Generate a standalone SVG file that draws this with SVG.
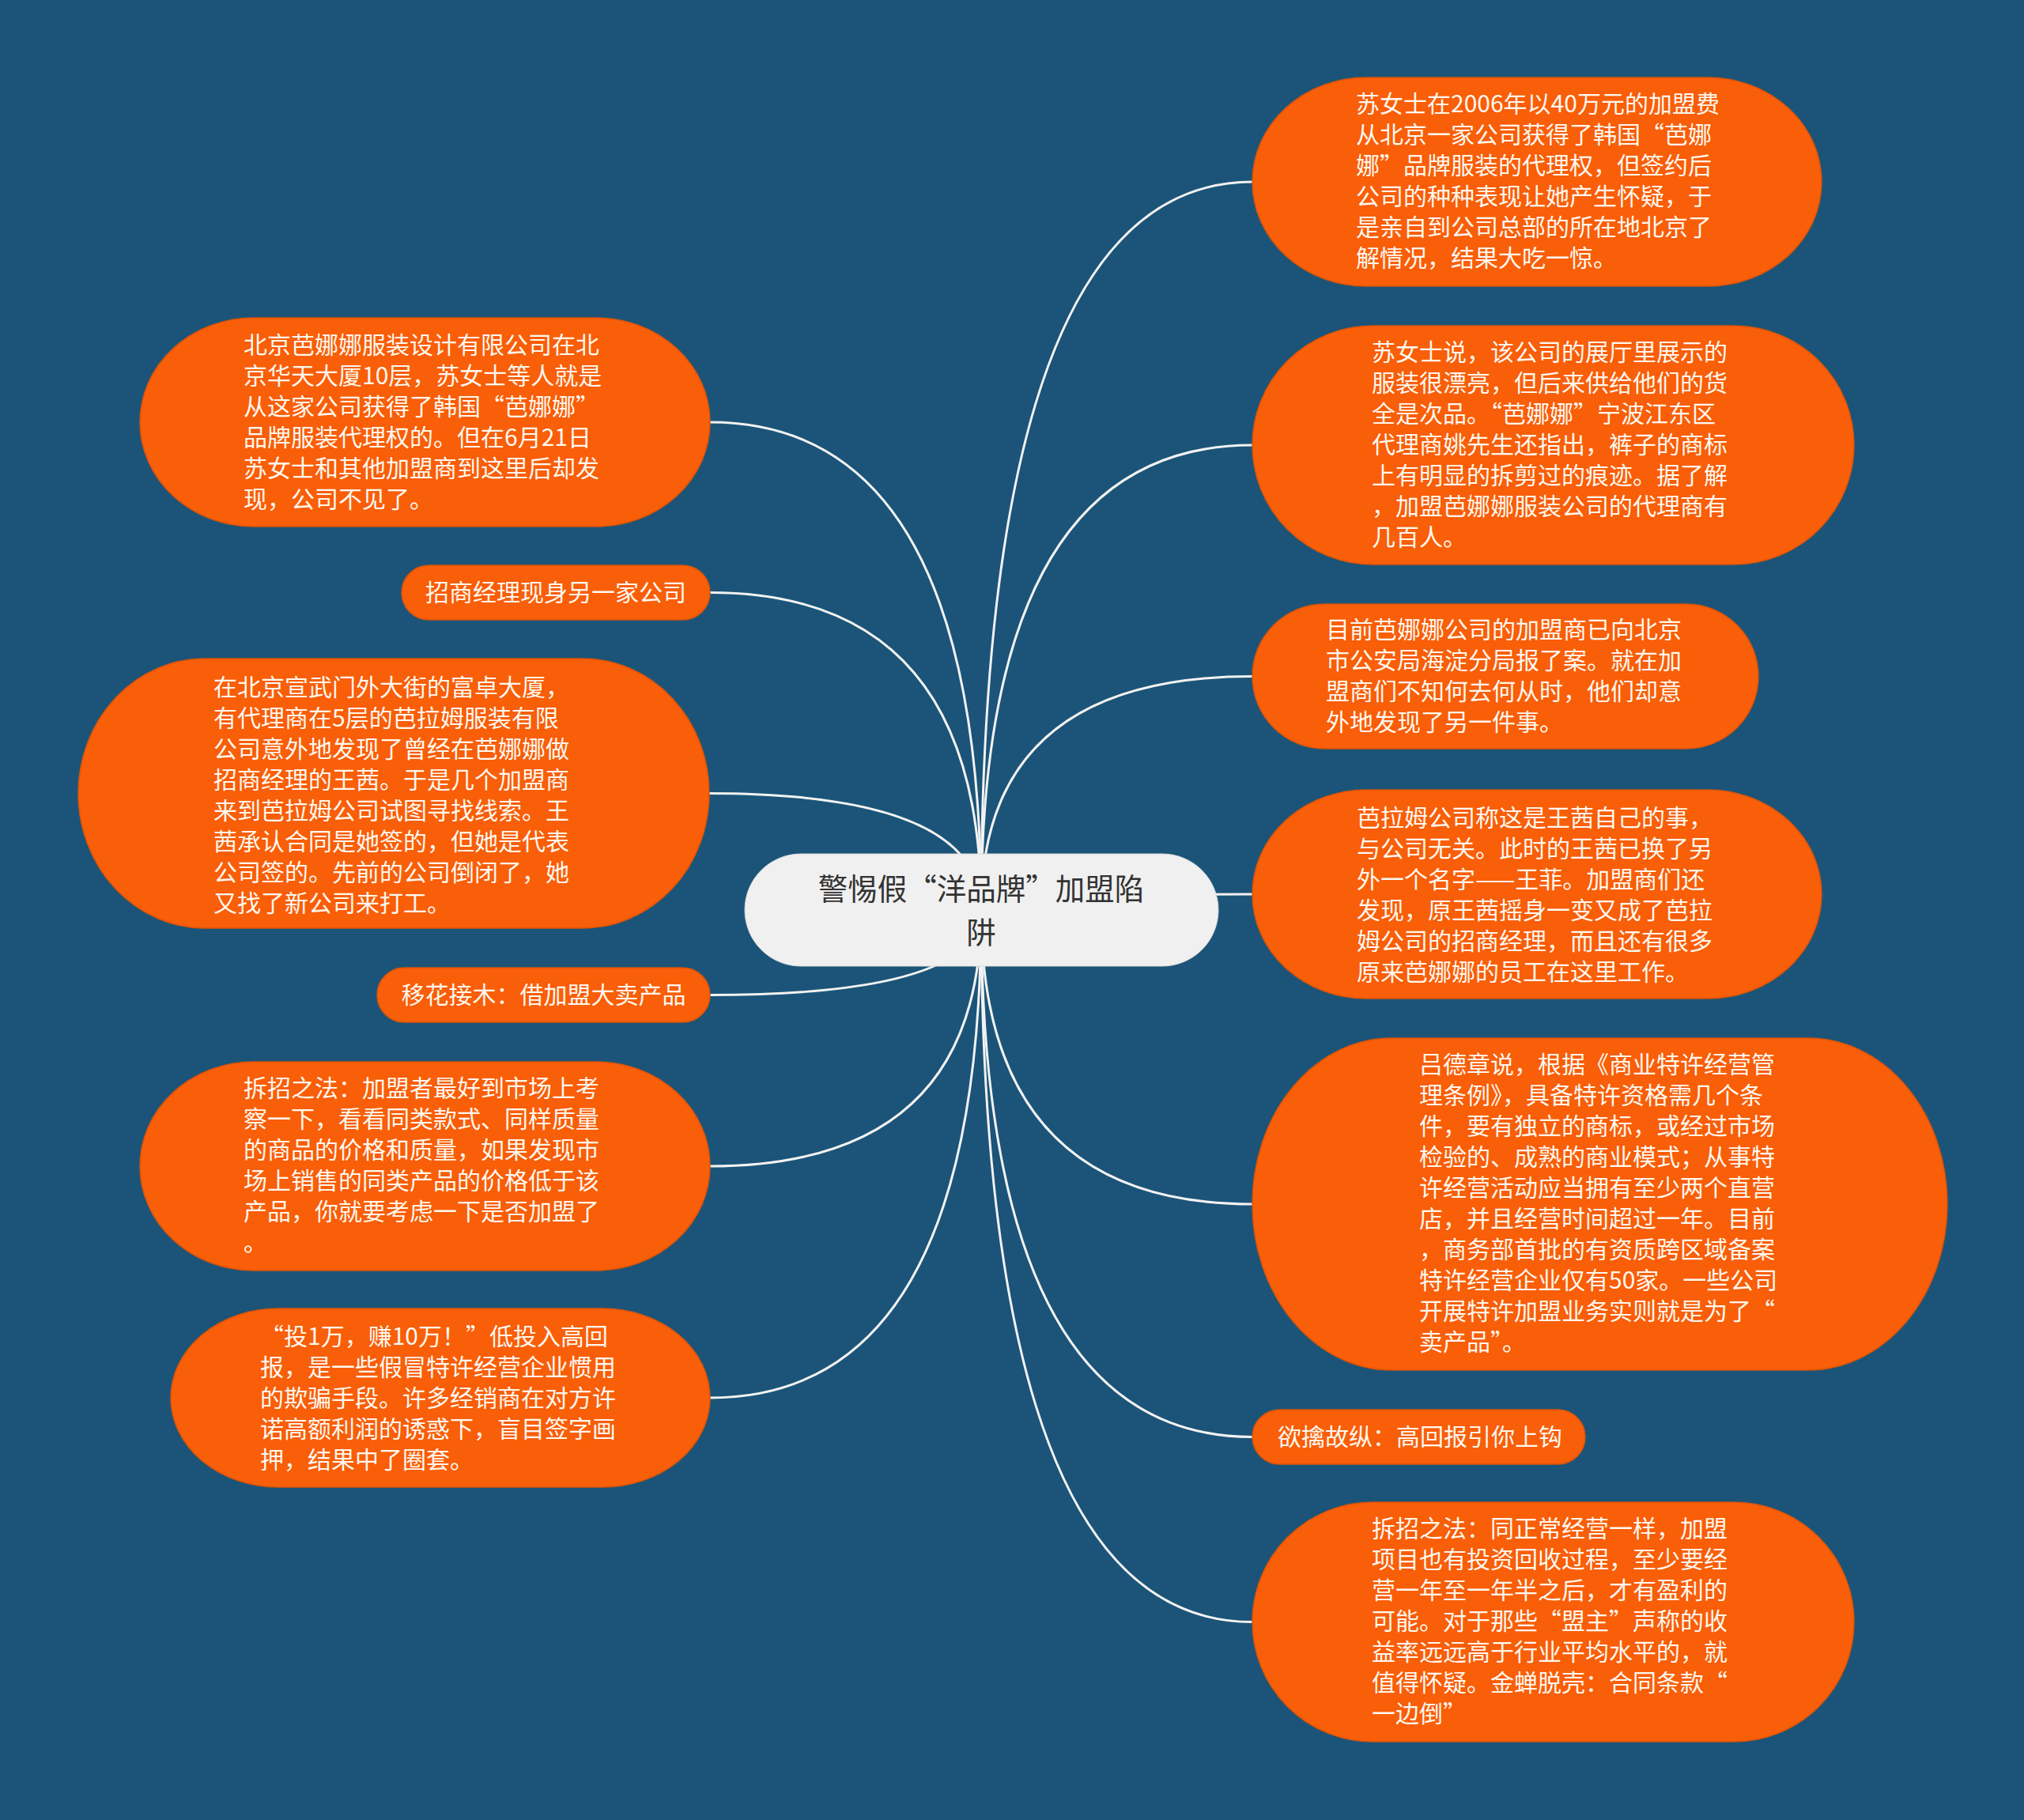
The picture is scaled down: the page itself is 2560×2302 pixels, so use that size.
<svg xmlns="http://www.w3.org/2000/svg" width="2560" height="2302" viewBox="0 0 2560 2302">
<style>
.conn path{fill:none;stroke:#F2F2F2;stroke-width:3;stroke-linecap:round}
.sub{fill:#F95E08;stroke:#D9540A;stroke-width:1.5}
.root{fill:#F0F0F0;stroke:#DADADA;stroke-width:1}
.t{font-family:"Noto Sans CJK SC","Microsoft YaHei",sans-serif;font-size:30px;fill:#FFF8F0}
.rt{font-family:"Noto Sans CJK SC","Microsoft YaHei",sans-serif;font-size:37.5px;fill:#333333;text-anchor:middle}
.c{text-anchor:middle}
</style>
<rect x="0" y="0" width="2560" height="2302" fill="#1B5478"/>
<g class="conn" id="connectors">
<path d="M1241 1151 Q1241 230 1584 230"/>
<path d="M1241 1151 Q1241 563 1584 563"/>
<path d="M1241 1151 Q1241 855.5 1584 855.5"/>
<path d="M1241 1151 Q1241 1131 1584 1131"/>
<path d="M1241 1151 Q1241 1523 1584 1523"/>
<path d="M1241 1151 Q1241 1817.5 1584 1817.5"/>
<path d="M1241 1151 Q1241 2051.5 1584 2051.5"/>
<path d="M1241 1151 Q1241 534 898 534"/>
<path d="M1241 1151 Q1241 749.5 898 749.5"/>
<path d="M1241 1151 Q1241 1003.5 897 1003.5"/>
<path d="M1241 1151 Q1241 1258.5 898 1258.5"/>
<path d="M1241 1151 Q1241 1475 898 1475"/>
<path d="M1241 1151 Q1241 1768 898 1768"/>
</g>
<g id="root">
<rect class="root" x="942" y="1080" width="599" height="142" rx="71" ry="71"/>
<text class="rt"><tspan x="1241" y="1137.5">警惕假“洋品牌”加盟陷</tspan><tspan x="1241" y="1192.5">阱</tspan></text>
</g>
<g id="r1">
<rect class="sub" x="1584" y="98" width="720" height="264" rx="144" ry="132"/>
<text class="t"><tspan x="1715" y="142">苏女士在2006年以40万元的加盟费</tspan><tspan x="1715" y="181">从北京一家公司获得了韩国“芭娜</tspan><tspan x="1715" y="220">娜”品牌服装的代理权，但签约后</tspan><tspan x="1715" y="259">公司的种种表现让她产生怀疑，于</tspan><tspan x="1715" y="298">是亲自到公司总部的所在地北京了</tspan><tspan x="1715" y="337">解情况，结果大吃一惊。</tspan></text>
</g>
<g id="r2">
<rect class="sub" x="1584" y="412" width="761" height="302" rx="152" ry="151"/>
<text class="t"><tspan x="1735" y="456">苏女士说，该公司的展厅里展示的</tspan><tspan x="1735" y="495">服装很漂亮，但后来供给他们的货</tspan><tspan x="1735" y="534">全是次品。“芭娜娜”宁波江东区</tspan><tspan x="1735" y="573">代理商姚先生还指出，裤子的商标</tspan><tspan x="1735" y="612">上有明显的拆剪过的痕迹。据了解</tspan><tspan x="1735" y="651">，加盟芭娜娜服装公司的代理商有</tspan><tspan x="1735" y="690">几百人。</tspan></text>
</g>
<g id="r3">
<rect class="sub" x="1584" y="764" width="640" height="183" rx="91.5" ry="91.5"/>
<text class="t"><tspan x="1677" y="807">目前芭娜娜公司的加盟商已向北京</tspan><tspan x="1677" y="846">市公安局海淀分局报了案。就在加</tspan><tspan x="1677" y="885">盟商们不知何去何从时，他们却意</tspan><tspan x="1677" y="924">外地发现了另一件事。</tspan></text>
</g>
<g id="r4">
<rect class="sub" x="1584" y="999" width="720" height="264" rx="144" ry="132"/>
<text class="t"><tspan x="1716" y="1045">芭拉姆公司称这是王茜自己的事，</tspan><tspan x="1716" y="1084">与公司无关。此时的王茜已换了另</tspan><tspan x="1716" y="1123">外一个名字——王菲。加盟商们还</tspan><tspan x="1716" y="1162">发现，原王茜摇身一变又成了芭拉</tspan><tspan x="1716" y="1201">姆公司的招商经理，而且还有很多</tspan><tspan x="1716" y="1240">原来芭娜娜的员工在这里工作。</tspan></text>
</g>
<g id="r5">
<rect class="sub" x="1584" y="1313" width="879" height="420" rx="176" ry="210"/>
<text class="t"><tspan x="1795" y="1357">吕德章说，根据《商业特许经营管</tspan><tspan x="1795" y="1396">理条例》，具备特许资格需几个条</tspan><tspan x="1795" y="1435">件，要有独立的商标，或经过市场</tspan><tspan x="1795" y="1474">检验的、成熟的商业模式；从事特</tspan><tspan x="1795" y="1513">许经营活动应当拥有至少两个直营</tspan><tspan x="1795" y="1552">店，并且经营时间超过一年。目前</tspan><tspan x="1795" y="1591">，商务部首批的有资质跨区域备案</tspan><tspan x="1795" y="1630">特许经营企业仅有50家。一些公司</tspan><tspan x="1795" y="1669">开展特许加盟业务实则就是为了“</tspan><tspan x="1795" y="1708">卖产品”。</tspan></text>
</g>
<g id="r6">
<rect class="sub" x="1584" y="1783" width="421" height="69" rx="34.5" ry="34.5"/>
<text class="t c" x="1796" y="1828">欲擒故纵：高回报引你上钩</text>
</g>
<g id="r7">
<rect class="sub" x="1584" y="1900" width="761" height="303" rx="152" ry="151.5"/>
<text class="t"><tspan x="1735" y="1944">拆招之法：同正常经营一样，加盟</tspan><tspan x="1735" y="1983">项目也有投资回收过程，至少要经</tspan><tspan x="1735" y="2022">营一年至一年半之后，才有盈利的</tspan><tspan x="1735" y="2061">可能。对于那些“盟主”声称的收</tspan><tspan x="1735" y="2100">益率远远高于行业平均水平的，就</tspan><tspan x="1735" y="2139">值得怀疑。金蝉脱壳：合同条款“</tspan><tspan x="1735" y="2178">一边倒”</tspan></text>
</g>
<g id="l1">
<rect class="sub" x="177" y="402" width="721" height="264" rx="144" ry="132"/>
<text class="t"><tspan x="308" y="447">北京芭娜娜服装设计有限公司在北</tspan><tspan x="308" y="486">京华天大厦10层，苏女士等人就是</tspan><tspan x="308" y="525">从这家公司获得了韩国“芭娜娜”</tspan><tspan x="308" y="564">品牌服装代理权的。但在6月21日</tspan><tspan x="308" y="603">苏女士和其他加盟商到这里后却发</tspan><tspan x="308" y="642">现，公司不见了。</tspan></text>
</g>
<g id="l2">
<rect class="sub" x="508" y="715" width="390" height="69" rx="34.5" ry="34.5"/>
<text class="t c" x="703" y="760">招商经理现身另一家公司</text>
</g>
<g id="l3">
<rect class="sub" x="99" y="833" width="798" height="341" rx="160" ry="170.5"/>
<text class="t"><tspan x="270" y="880">在北京宣武门外大街的富卓大厦，</tspan><tspan x="270" y="919">有代理商在5层的芭拉姆服装有限</tspan><tspan x="270" y="958">公司意外地发现了曾经在芭娜娜做</tspan><tspan x="270" y="997">招商经理的王茜。于是几个加盟商</tspan><tspan x="270" y="1036">来到芭拉姆公司试图寻找线索。王</tspan><tspan x="270" y="1075">茜承认合同是她签的，但她是代表</tspan><tspan x="270" y="1114">公司签的。先前的公司倒闭了，她</tspan><tspan x="270" y="1153">又找了新公司来打工。</tspan></text>
</g>
<g id="l4">
<rect class="sub" x="477" y="1224" width="421" height="69" rx="34.5" ry="34.5"/>
<text class="t c" x="687.5" y="1269">移花接木：借加盟大卖产品</text>
</g>
<g id="l5">
<rect class="sub" x="177" y="1343" width="721" height="264" rx="144" ry="132"/>
<text class="t"><tspan x="308" y="1387">拆招之法：加盟者最好到市场上考</tspan><tspan x="308" y="1426">察一下，看看同类款式、同样质量</tspan><tspan x="308" y="1465">的商品的价格和质量，如果发现市</tspan><tspan x="308" y="1504">场上销售的同类产品的价格低于该</tspan><tspan x="308" y="1543">产品，你就要考虑一下是否加盟了</tspan><tspan x="308" y="1582">。</tspan></text>
</g>
<g id="l6">
<rect class="sub" x="216" y="1655" width="682" height="226" rx="136" ry="113"/>
<text class="t"><tspan x="329" y="1701">“投1万，赚10万！”低投入高回</tspan><tspan x="329" y="1740">报，是一些假冒特许经营企业惯用</tspan><tspan x="329" y="1779">的欺骗手段。许多经销商在对方许</tspan><tspan x="329" y="1818">诺高额利润的诱惑下，盲目签字画</tspan><tspan x="329" y="1857">押，结果中了圈套。</tspan></text>
</g>
</svg>
